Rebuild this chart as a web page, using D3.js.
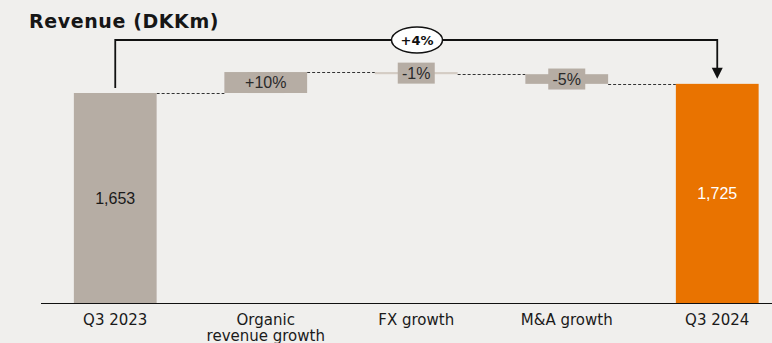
<!doctype html>
<html>
<head>
<style>
  body { margin: 0; background: #f0efed; }
  svg { display: block; }
</style>
<script src="https://cdn.jsdelivr.net/npm/d3@7"></script>
</head>
<body>
<svg width="772" height="343" id="chart"></svg>
<script>
// data
var categories = ["Q3 2023", "Organic revenue growth", "FX growth", "M&A growth", "Q3 2024"];
var kinds = ["total", "delta", "delta", "delta", "total"];
var values = [1653, 165, -17, -76, 1725];
var valueLabels = ["1,653", "+10%", "-1%", "-5%", "1,725"];
var totalChange = "+4%";

var svg = d3.select("#chart"),
    W = +svg.attr("width"),
    H = +svg.attr("height"),
    baseY = 303;

svg.append("rect").attr("width", W).attr("height", H).attr("fill", "#f0efed");

svg.append("text")
   .attr("x", 29).attr("y", 28)
   .attr("font-family", "DejaVu Sans").attr("font-weight", "bold")
   .attr("font-size", "19px").attr("fill", "#161616")
   .attr("letter-spacing", "0.6px")
   .text("Revenue (DKKm)");

var x = d3.scaleBand().domain(categories).range([40, 792.5])
          .paddingInner(0.45).paddingOuter(0.225);
var y = d3.scaleLinear().domain([0, 2000]).range([baseY, baseY - 2000 * 0.12704]);

// build waterfall steps
var running = 0;
var steps = categories.map(function(c, i) {
    var s = {cat: c, kind: kinds[i], label: valueLabels[i]};
    if (kinds[i] == "total") { s.start = 0; s.end = values[i]; running = values[i]; }
    else { s.start = running; s.end = running + values[i]; running = s.end; }
    return s;
});

// connectors
var g = svg.append("g");
steps.forEach(function(s, i) {
    if (i == steps.length - 1) return;
    var lvl = s.end;
    g.append("line")
     .attr("x1", x(s.cat) + x.bandwidth()).attr("x2", x(steps[i + 1].cat))
     .attr("y1", Math.round(y(lvl)) + 0.5).attr("y2", Math.round(y(lvl)) + 0.5)
     .attr("stroke", "#333").attr("stroke-width", 1)
     .attr("stroke-dasharray", "3,2");
});

// bars
g.selectAll(".bar").data(steps).enter().append("rect")
 .attr("class", "bar")
 .attr("x", function(d) { return x(d.cat); })
 .attr("width", x.bandwidth())
 .attr("y", function(d) { return y(Math.max(d.start, d.end)); })
 .attr("height", function(d) { return Math.abs(y(d.start) - y(d.end)); })
 .attr("fill", function(d, i) {
     if (i == steps.length - 1) return "#e97300";
     if (d.kind == "delta" && Math.abs(d.end - d.start) < 30) return "#d4ccc4";
     return "#b6ada4";
 });

// total labels
steps.filter(function(d) { return d.kind == "total"; }).forEach(function(d, i) {
    svg.append("text")
       .attr("x", x(d.cat) + x.bandwidth() / 2)
       .attr("y", (y(0) + y(d.end)) / 2)
       .attr("dy", "0.36em")
       .attr("text-anchor", "middle")
       .attr("font-family", "Liberation Sans, Arial").attr("font-size", "16px")
       .attr("fill", i == 0 ? "#1a1a1a" : "#ffffff")
       .text(d.label);
});

// delta labels with boxes
steps.filter(function(d) { return d.kind == "delta"; }).forEach(function(d) {
    var cx = x(d.cat) + x.bandwidth() / 2,
        cy = (y(d.start) + y(d.end)) / 2;
    svg.append("rect")
       .attr("x", cx - 18.5).attr("y", cy - 10.5)
       .attr("width", 37).attr("height", 21)
       .attr("fill", "#b6ada4");
    svg.append("text")
       .attr("x", cx).attr("y", cy).attr("dy", "0.36em")
       .attr("text-anchor", "middle")
       .attr("font-family", "Liberation Sans, Arial").attr("font-size", "16px")
       .attr("fill", "#2a2a2a")
       .text(d.label);
});

// axis
var axis = svg.append("g").attr("transform", "translate(0," + baseY + ")")
    .call(d3.axisBottom(x).tickSize(0).tickFormat(""));
axis.select(".domain").remove();
svg.append("line").attr("x1", 41).attr("x2", W)
   .attr("y1", baseY + 0.5).attr("y2", baseY + 0.5)
   .attr("stroke", "#111").attr("stroke-width", 1.2);

var catText = svg.selectAll(".cat").data(categories).enter().append("text")
   .attr("class", "cat")
   .attr("x", function(d) { return x(d) + x.bandwidth() / 2; })
   .attr("y", 325)
   .attr("text-anchor", "middle")
   .attr("font-family", "DejaVu Sans").attr("font-size", "15px")
   .attr("fill", "#1a1a1a");
catText.each(function(d) {
    var t = d3.select(this);
    var lines = d == "Organic revenue growth" ? ["Organic", "revenue growth"] : [d];
    lines.forEach(function(l, i) {
        t.append("tspan").attr("x", t.attr("x")).attr("dy", i == 0 ? 0 : 16).text(l);
    });
});

// overall change bracket
var first = steps[0], last = steps[steps.length - 1],
    x1 = x(first.cat) + x.bandwidth() / 2,
    x2 = x(last.cat) + x.bandwidth() / 2,
    topY = 40;
svg.append("path")
   .attr("d", "M" + x1 + "," + (y(first.end) - 5) + "V" + topY + "H" + x2 + "V" + (y(last.end) - 13))
   .attr("fill", "none").attr("stroke", "#111").attr("stroke-width", 1.8);
svg.append("path")
   .attr("d", "M" + (x2 - 5.5) + "," + (y(last.end) - 16) + "L" + (x2 + 5.5) + "," + (y(last.end) - 16) + "L" + x2 + "," + (y(last.end) - 5) + "Z")
   .attr("fill", "#111");
var ex = 417;
svg.append("ellipse").attr("cx", ex).attr("cy", topY).attr("rx", 25.5).attr("ry", 13)
   .attr("fill", "#fff").attr("stroke", "#111").attr("stroke-width", 1.5);
svg.append("text").attr("x", ex).attr("y", topY).attr("dy", "0.36em")
   .attr("text-anchor", "middle")
   .attr("font-family", "DejaVu Sans").attr("font-weight", "bold").attr("font-size", "13px")
   .attr("fill", "#111")
   .text(totalChange);
</script>
</body>
</html>
